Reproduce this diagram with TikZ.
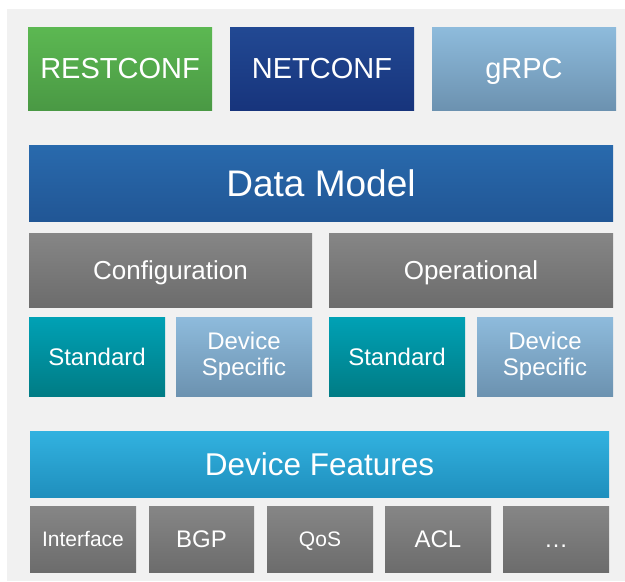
\documentclass[tikz,border=0pt]{standalone}
\usepackage{fontspec}
\setmainfont{Liberation Sans}
\definecolor{panel}{RGB}{241,241,241}
\definecolor{grT}{RGB}{92,184,82}\definecolor{grB}{RGB}{74,153,68}
\definecolor{nvT}{RGB}{34,73,147}\definecolor{nvB}{RGB}{23,52,124}
\definecolor{ltT}{RGB}{142,187,220}\definecolor{ltB}{RGB}{108,146,176}
\definecolor{dmT}{RGB}{41,106,173}\definecolor{dmB}{RGB}{33,86,149}
\definecolor{gyT}{RGB}{134,134,134}\definecolor{gyB}{RGB}{108,108,108}
\definecolor{tlT}{RGB}{0,161,181}\definecolor{tlB}{RGB}{0,124,133}
\definecolor{dfT}{RGB}{50,178,224}\definecolor{dfB}{RGB}{31,143,189}
\tikzset{
  blk/.style={anchor=north west, inner sep=0pt, outer sep=0pt, draw=none,
    text=white, align=center},
  green/.style={blk, top color=grT, bottom color=grB},
  navy/.style={blk, top color=nvT, bottom color=nvB},
  light/.style={blk, top color=ltT, bottom color=ltB},
  dmblue/.style={blk, top color=dmT, bottom color=dmB},
  gray/.style={blk, top color=gyT, bottom color=gyB},
  teal/.style={blk, top color=tlT, bottom color=tlB},
  dfblue/.style={blk, top color=dfT, bottom color=dfB},
  fA/.style={font=\fontsize{29}{29}\selectfont, text height=20.8pt, text depth=0pt},
  fB/.style={font=\fontsize{37}{37}\selectfont, text height=26.5pt, text depth=0pt},
  fC/.style={font=\fontsize{26}{26}\selectfont, text height=18.6pt, text depth=0pt},
  fD/.style={font=\fontsize{24}{26}\selectfont, text height=17.2pt, text depth=0pt},
  fDD/.style={font=\fontsize{24}{26}\selectfont},
  fE/.style={font=\fontsize{31.5}{31.5}\selectfont, text height=22.6pt, text depth=0pt},
  fF/.style={font=\fontsize{21}{21}\selectfont, text height=15pt, text depth=0pt},
}
\begin{document}
\begin{tikzpicture}[x=1pt,y=-1pt]
\useasboundingbox (0,0) rectangle (625,582);
\fill[white] (0,0) rectangle (625,582);
\fill[panel] (7,9) rectangle (625,581);
% top row
\node[green,fA,minimum width=184pt,minimum height=83pt] (rest) at (28,27) {RESTCONF};
\node[navy,fA,minimum width=184pt,minimum height=83pt] (netc) at (230,27) {NETCONF};
\node[light,fA,minimum width=184pt,minimum height=83pt] (grpc) at (432,27) {gRPC};
% data model
\node[dmblue,fB,minimum width=584pt,minimum height=76pt] (dm) at (29,145) {Data Model};
\node[gray,fC,minimum width=283pt,minimum height=74pt] (conf) at (29,233) {Configuration};
\node[gray,fC,minimum width=284pt,minimum height=74pt] (oper) at (329,233) {Operational};
\node[teal,fD,minimum width=136pt,minimum height=79pt] (std1) at (29,317) {Standard};
\node[light,fDD,minimum width=136pt,minimum height=79pt] (ds1) at (176,317) {Device\\Specific};
\node[teal,fD,minimum width=136pt,minimum height=79pt] (std2) at (329,317) {Standard};
\node[light,fDD,minimum width=136pt,minimum height=79pt] (ds2) at (477,317) {Device\\Specific};
% device features
\node[dfblue,fE,minimum width=579pt,minimum height=66pt] (df) at (30,431) {Device Features};
\node[gray,fF,minimum width=106pt,minimum height=66pt] (intf) at (30,506) {Interface};
\node[gray,fD,minimum width=105pt,minimum height=66pt] (bgp) at (149,506) {BGP};
\node[gray,fF,minimum width=106pt,minimum height=66pt] (qos) at (267,506) {QoS};
\node[gray,fD,minimum width=106pt,minimum height=66pt] (acl) at (385,506) {ACL};
\node[gray,fD,minimum width=106pt,minimum height=66pt] (more) at (503,506) {…};
\end{tikzpicture}
\end{document}
